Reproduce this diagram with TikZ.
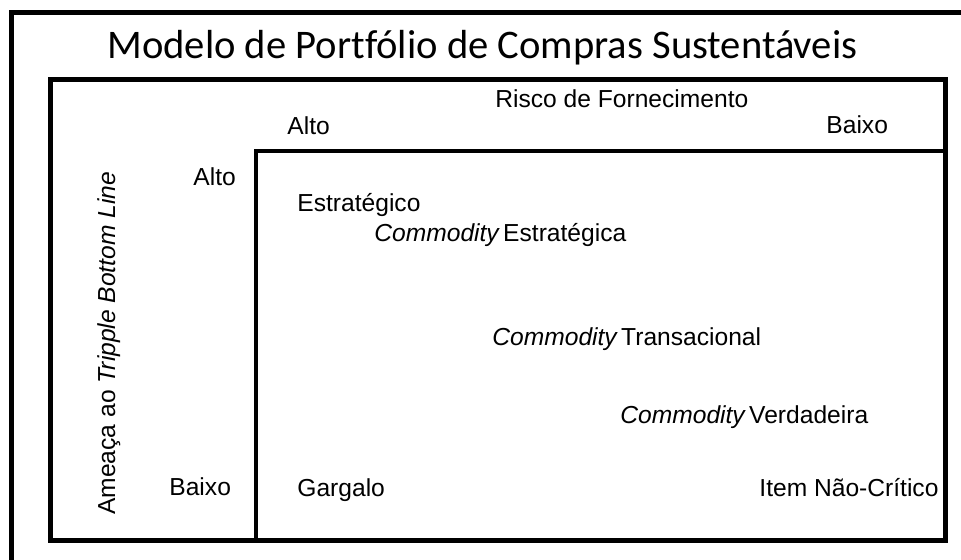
\documentclass[tikz,border=0pt]{standalone}
\usepackage{fontspec}
\setmainfont{Liberation Sans}
\newfontfamily\titlefont[Ligatures=NoCommon]{Carlito}
\newcommand\comm{{\itshape Commodity}\hspace{0.18em}}
\tikzset{
  frame/.style={line width=2.1pt, line join=miter},
  lbl/.style={anchor=base west, inner sep=0pt, font=\fontsize{12.3}{14}\selectfont},
}
\begin{document}
\begin{tikzpicture}[x=0.5pt,y=0.5pt,yscale=-1,xscale=1]
\clip (0,0) rectangle (961,560);

%Shape: Rectangle (outer frame)
\draw [frame] (11.5,12.5) rectangle (1000,600) ;
%Shape: Rectangle (matrix frame)
\draw [frame] (50.5,79.5) rectangle (945.5,540.5) ;
%Straight Lines (quadrant corner)
\draw [frame] (256,540.5) -- (256,151) -- (945.5,151) ;

% Text Node
\node [anchor=base west, inner sep=0pt, font=\titlefont\fontsize{20.3}{24}\selectfont] (title) at (107,59) {Modelo de Portfólio de Compras Sustentáveis};
% Text Node
\node [lbl] (risco) at (495,108) {Risco de Fornecimento};
% Text Node
\node [lbl] (xalto) at (287,135) {Alto};
% Text Node
\node [lbl] (xbaixo) at (826,134) {Baixo};
% Text Node
\node [lbl, rotate=90] (ameaca) at (115,515) {Ameaça ao {\itshape Tripple Bottom Line}};
% Text Node
\node [lbl] (yalto) at (193,186) {Alto};
% Text Node
\node [lbl] (ybaixo) at (169,495) {Baixo};
% Text Node
\node [lbl] (estrat) at (297,212) {Estratégico};
% Text Node
\node [lbl] (comest) at (374,242) {\comm Estratégica};
% Text Node
\node [lbl] (comtra) at (492,345) {\comm Transacional};
% Text Node
\node [lbl] (comver) at (620,423) {\comm Verdadeira};
% Text Node
\node [lbl] (gargalo) at (297,496) {Gargalo};
% Text Node
\node [lbl] (item) at (759,496) {Item Não-Crítico};

\end{tikzpicture}
\end{document}
